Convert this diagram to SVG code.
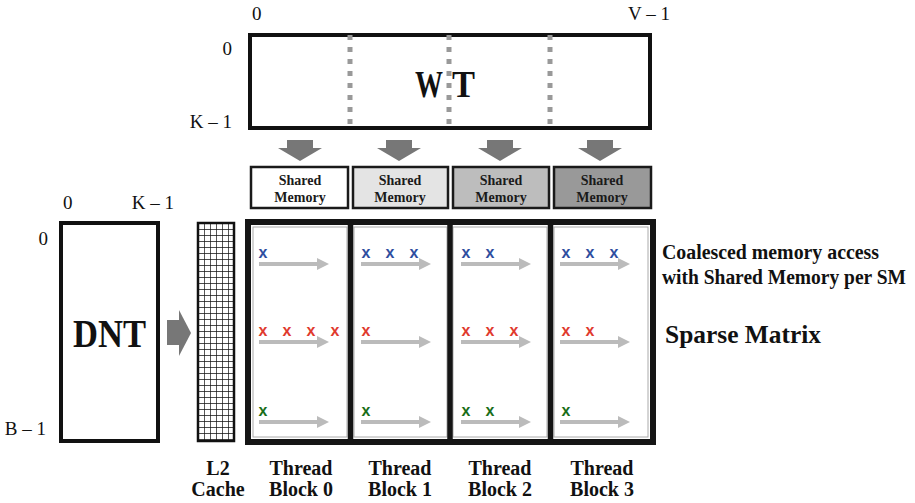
<svg xmlns="http://www.w3.org/2000/svg" width="915" height="503" viewBox="0 0 915 503">
<style>
.lbl{font-family:"Liberation Serif","Times New Roman",serif;font-size:19px;fill:#111}
.b{font-family:"Liberation Serif","Times New Roman",serif;font-weight:bold;fill:#111}
.mx{fill:#fff;stroke:#111;stroke-width:4}
.sm{stroke:#1a1a1a;stroke-width:2.5}
.sml{font-family:"Liberation Serif","Times New Roman",serif;font-weight:bold;font-size:14px;fill:#1a1a1a;text-anchor:middle}
.dash{stroke:#999;stroke-width:5;stroke-dasharray:5 7}
.ga{fill:#777}
.ra{fill:#bbb}
.xb{font-family:"Liberation Sans",sans-serif;font-weight:bold;font-size:16px;fill:#2f4ea0;text-anchor:middle}
.xr{font-family:"Liberation Sans",sans-serif;font-weight:bold;font-size:16px;fill:#e03a2e;text-anchor:middle}
.xg{font-family:"Liberation Sans",sans-serif;font-weight:bold;font-size:16px;fill:#1a6e1a;text-anchor:middle}
</style>
<defs>
<pattern id="grid" x="198" y="223" width="6" height="6" patternUnits="userSpaceOnUse">
<rect width="6" height="6" fill="#fff"/>
<path d="M0 0H6M0 0V6" stroke="#111" stroke-width="1.4" fill="none"/>
</pattern>
<g id="rarr"><rect x="0" y="-2" width="60" height="4"/><polygon points="58,-6 70,0 58,6"/></g>
<g id="darr"><rect x="-13" y="0" width="26" height="9"/><polygon points="-22,8 22,8 0,21"/></g>
</defs>

<g id="wt">
<rect class="mx" x="250" y="35" width="400" height="93"/>
<line class="dash" x1="350" y1="35" x2="350" y2="130"/>
<line class="dash" x1="449" y1="35" x2="449" y2="130"/>
<line class="dash" x1="550" y1="35" x2="550" y2="130"/>
<text class="b" x="415" y="97" font-size="37" textLength="28" lengthAdjust="spacingAndGlyphs">W</text>
<text class="b" x="452" y="97" font-size="37" textLength="23" lengthAdjust="spacingAndGlyphs">T</text>
<text class="lbl" x="252" y="20">0</text>
<text class="lbl" x="628" y="20">V – 1</text>
<text class="lbl" x="232" y="55" text-anchor="end">0</text>
<text class="lbl" x="232" y="128" text-anchor="end">K – 1</text>
</g>

<g id="down-arrows" class="ga">
<use href="#darr" x="300" y="140"/>
<use href="#darr" x="399" y="140"/>
<use href="#darr" x="500" y="140"/>
<use href="#darr" x="600" y="140"/>
</g>

<g id="sm0"><rect class="sm" x="251" y="167" width="97" height="41" fill="#fff"/><text class="sml" x="300" y="185">Shared</text><text class="sml" x="300" y="202">Memory</text></g>
<g id="sm1"><rect class="sm" x="353" y="167" width="95" height="41" fill="#e4e4e4"/><text class="sml" x="400" y="185">Shared</text><text class="sml" x="400" y="202">Memory</text></g>
<g id="sm2"><rect class="sm" x="453" y="167" width="96" height="41" fill="#bdbdbd"/><text class="sml" x="501" y="185">Shared</text><text class="sml" x="501" y="202">Memory</text></g>
<g id="sm3"><rect class="sm" x="554" y="167" width="97" height="41" fill="#999"/><text class="sml" x="602" y="185">Shared</text><text class="sml" x="602" y="202">Memory</text></g>

<g id="dnt">
<rect class="mx" x="61" y="223" width="97" height="218"/>
<text class="b" x="73" y="347" font-size="40" textLength="73" lengthAdjust="spacingAndGlyphs">DNT</text>
<text class="lbl" x="63" y="209">0</text>
<text class="lbl" x="174" y="209" text-anchor="end">K – 1</text>
<text class="lbl" x="48" y="245" text-anchor="end">0</text>
<text class="lbl" x="46" y="435" text-anchor="end">B – 1</text>
</g>

<g id="right-arrow" class="ga"><rect x="167" y="320" width="13" height="25"/><polygon points="179,310 191,333 179,356"/></g>

<g id="l2">
<rect x="198" y="223" width="36" height="218" fill="url(#grid)" stroke="#111" stroke-width="2.5"/>
</g>

<g id="sparse">
<rect x="248" y="222" width="405" height="220" fill="#fff" stroke="#151515" stroke-width="6"/>
<g fill="none" stroke="#aaa" stroke-width="1">
<rect x="253" y="227" width="94" height="210"/>
<rect x="354" y="227" width="93" height="210"/>
<rect x="453" y="227" width="94" height="210"/>
<rect x="554" y="227" width="94" height="210"/>
</g>
<g stroke="#151515" stroke-width="5.5">
<line x1="350.5" y1="222" x2="350.5" y2="442"/>
<line x1="450" y1="222" x2="450" y2="442"/>
<line x1="550.5" y1="222" x2="550.5" y2="442"/>
</g>
</g>

<g id="connectors" class="ra">
<use href="#rarr" x="259" y="264"/><use href="#rarr" x="259" y="342"/><use href="#rarr" x="259" y="422"/>
<use href="#rarr" x="361" y="264"/><use href="#rarr" x="361" y="342"/><use href="#rarr" x="361" y="422"/>
<use href="#rarr" x="461" y="264"/><use href="#rarr" x="461" y="342"/><use href="#rarr" x="461" y="422"/>
<use href="#rarr" x="560" y="264"/><use href="#rarr" x="560" y="342"/><use href="#rarr" x="560" y="422"/>
</g>

<g id="marks">
<text class="xb" x="263" y="258">x</text>
<text class="xb" x="366" y="258">x</text><text class="xb" x="390" y="258">x</text><text class="xb" x="414" y="258">x</text>
<text class="xb" x="466" y="258">x</text><text class="xb" x="490" y="258">x</text>
<text class="xb" x="566" y="258">x</text><text class="xb" x="590" y="258">x</text><text class="xb" x="614" y="258">x</text>
<text class="xr" x="263" y="336">x</text><text class="xr" x="287" y="336">x</text><text class="xr" x="311" y="336">x</text><text class="xr" x="335" y="336">x</text>
<text class="xr" x="366" y="336">x</text>
<text class="xr" x="466" y="336">x</text><text class="xr" x="490" y="336">x</text><text class="xr" x="514" y="336">x</text>
<text class="xr" x="566" y="336">x</text><text class="xr" x="590" y="336">x</text>
<text class="xg" x="263" y="416">x</text>
<text class="xg" x="366" y="416">x</text>
<text class="xg" x="466" y="416">x</text><text class="xg" x="490" y="416">x</text>
<text class="xg" x="566" y="416">x</text>
</g>

<g id="side-labels">
<text class="b" x="662" y="259" font-size="20" textLength="217" lengthAdjust="spacingAndGlyphs">Coalesced memory access</text>
<text class="b" x="662" y="284" font-size="20" textLength="244" lengthAdjust="spacingAndGlyphs">with Shared Memory per SM</text>
<text class="b" x="665" y="343" font-size="25" textLength="156" lengthAdjust="spacingAndGlyphs">Sparse Matrix</text>
</g>

<g id="bottom-labels" class="b" font-size="20" text-anchor="middle">
<text x="218" y="475">L2</text><text x="218" y="496">Cache</text>
<text x="301" y="475">Thread</text><text x="301" y="496">Block 0</text>
<text x="400" y="475">Thread</text><text x="400" y="496">Block 1</text>
<text x="500" y="475">Thread</text><text x="500" y="496">Block 2</text>
<text x="602" y="475">Thread</text><text x="602" y="496">Block 3</text>
</g>
</svg>
